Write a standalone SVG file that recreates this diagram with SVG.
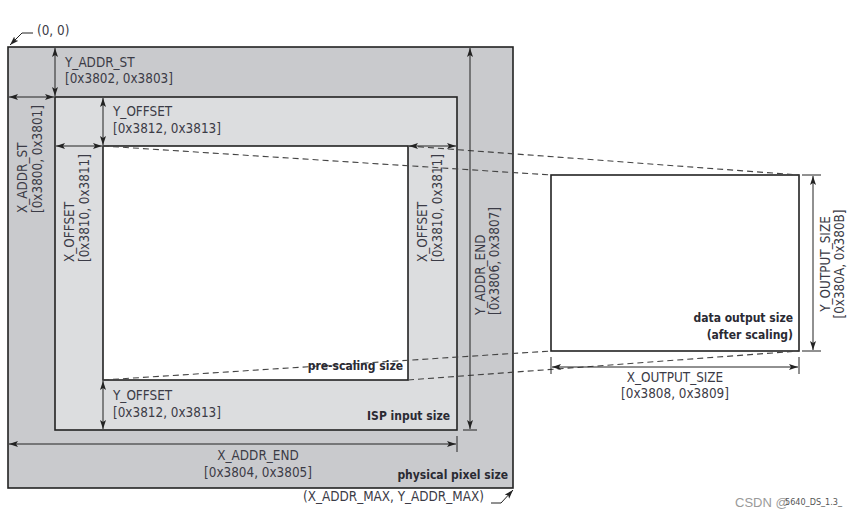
<svg xmlns="http://www.w3.org/2000/svg" width="865" height="519" viewBox="0 0 865 519">
<defs>
<marker id="ah" markerUnits="userSpaceOnUse" markerWidth="10" markerHeight="7" refX="9" refY="3.5" orient="auto-start-reverse">
<path d="M0,0.5 L9,3.5 L0,6.5 L2,3.5 z" fill="#222"/>
</marker>
<style>
.box{stroke:#222;stroke-width:1.6}
.dim{stroke:#222;stroke-width:1;fill:none}
.dash{stroke:#444;stroke-width:1.1;stroke-dasharray:6 4;fill:none}
.t{font-family:"DejaVu Sans Condensed","DejaVu Sans",sans-serif;font-stretch:condensed;font-size:13.4px;fill:#3b3b46}
.b{font-family:"DejaVu Sans Condensed","DejaVu Sans",sans-serif;font-stretch:condensed;font-size:12px;font-weight:bold;fill:#2a2a33;text-anchor:end}
.m{text-anchor:middle}
.w{font-family:"Liberation Sans",Arial,sans-serif;font-size:13px;fill:#9a9a9a}
</style>
</defs>
<rect width="865" height="519" fill="#fff"/>

<g id="physical">
<rect class="box" x="8" y="47" width="505" height="441" fill="#c9cacd"/>
<text class="b" x="508" y="479">physical pixel size</text>
</g>
<g id="isp">
<rect class="box" x="55" y="97" width="402" height="333" fill="#dcdddf"/>
<text class="b" x="450" y="420">ISP input size</text>
</g>
<g id="prescaling">
<rect class="box" x="103" y="146" width="305" height="234" fill="#fff"/>
</g>
<g id="output">
<rect class="box" x="551" y="175" width="248" height="176" fill="#fff"/>
<text class="b" x="793" y="322">data output size</text>
<text class="b" x="793" y="339">(after scaling)</text>
</g>

<g id="connectors">
<line class="dash" x1="103" y1="146" x2="551" y2="175"/>
<line class="dash" x1="408" y1="146" x2="799" y2="175"/>
<line class="dash" x1="103" y1="380" x2="551" y2="351"/>
<line class="dash" x1="408" y1="380" x2="799" y2="351"/>

<line class="dim" x1="55" y1="48" x2="55" y2="96" marker-start="url(#ah)" marker-end="url(#ah)"/>
<line class="dim" x1="9" y1="97" x2="54" y2="97" marker-start="url(#ah)" marker-end="url(#ah)"/>
<line class="dim" x1="103" y1="98" x2="103" y2="145" marker-start="url(#ah)" marker-end="url(#ah)"/>
<line class="dim" x1="56" y1="146" x2="102" y2="146" marker-start="url(#ah)" marker-end="url(#ah)"/>
<line class="dim" x1="409" y1="146" x2="456" y2="146" marker-start="url(#ah)" marker-end="url(#ah)"/>
<line class="dim" x1="103" y1="381" x2="103" y2="429" marker-start="url(#ah)" marker-end="url(#ah)"/>
<line class="dim" x1="9" y1="444" x2="456" y2="444" marker-start="url(#ah)" marker-end="url(#ah)"/>
<line class="dim" x1="457" y1="436" x2="457" y2="452"/>
<line class="dim" x1="470" y1="48" x2="470" y2="429" marker-start="url(#ah)" marker-end="url(#ah)"/>
<line class="dim" x1="463" y1="430" x2="477" y2="430"/>
<line class="dim" x1="813" y1="176" x2="813" y2="350" marker-start="url(#ah)" marker-end="url(#ah)"/>
<line class="dim" x1="802" y1="175" x2="821" y2="175"/>
<line class="dim" x1="802" y1="351" x2="821" y2="351"/>
<line class="dim" x1="552" y1="367" x2="798" y2="367" marker-start="url(#ah)" marker-end="url(#ah)"/>
<line class="dim" x1="551" y1="357" x2="551" y2="374"/>
<line class="dim" x1="799" y1="357" x2="799" y2="374"/>

<polyline class="dim" points="33,33 22,33 10,45" marker-end="url(#ah)"/>
<polyline class="dim" points="491,503 501,503 513,490" marker-end="url(#ah)"/>
</g>

<g id="labels">
<text class="t" x="37" y="35">(0, 0)</text>
<text class="t" x="65" y="67">Y_ADDR_ST</text>
<text class="t" x="65" y="83">[0x3802, 0x3803]</text>
<text class="t" x="113" y="116">Y_OFFSET</text>
<text class="t" x="113" y="133">[0x3812, 0x3813]</text>
<text class="t" x="113" y="400">Y_OFFSET</text>
<text class="t" x="113" y="417">[0x3812, 0x3813]</text>
<text class="t m" x="258" y="460">X_ADDR_END</text>
<text class="t m" x="258" y="477">[0x3804, 0x3805]</text>
<text class="t m" x="675" y="382">X_OUTPUT_SIZE</text>
<text class="t m" x="675" y="398">[0x3808, 0x3809]</text>
<text class="t" x="303" y="501">(X_ADDR_MAX, Y_ADDR_MAX)</text>

<text class="t" transform="translate(27,213) rotate(-90)">X_ADDR_ST</text>
<text class="t" transform="translate(42,213) rotate(-90)">[0x3800, 0x3801]</text>
<text class="t" transform="translate(74,262) rotate(-90)">X_OFFSET</text>
<text class="t" transform="translate(89,262) rotate(-90)">[0x3810, 0x3811]</text>
<text class="t" transform="translate(427,262) rotate(-90)">X_OFFSET</text>
<text class="t" transform="translate(442,262) rotate(-90)">[0x3810, 0x3811]</text>
<text class="t" transform="translate(485,315) rotate(-90)">Y_ADDR_END</text>
<text class="t" transform="translate(499,315) rotate(-90)">[0x3806, 0x3807]</text>
<text class="t m" transform="translate(830,264) rotate(-90)">Y_OUTPUT_SIZE</text>
<text class="t m" transform="translate(844,264) rotate(-90)">[0x380A, 0x380B]</text>

<text class="b" x="403" y="370">pre-scaling size</text>

<text class="w" x="735" y="507">CSDN @</text>
<text x="785" y="505" style="font-family:'DejaVu Sans Condensed','DejaVu Sans',sans-serif;font-size:9px;fill:#555">5640_DS_1.3_</text>
</g>
</svg>
